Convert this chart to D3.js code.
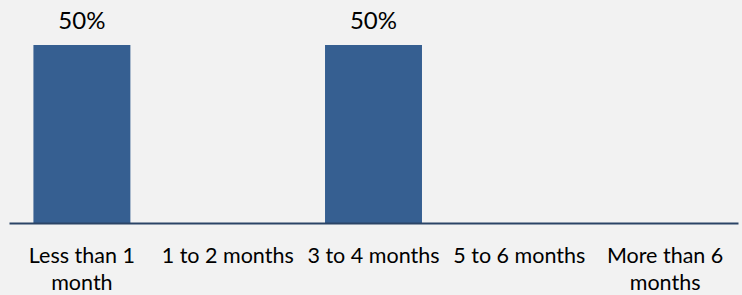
<!DOCTYPE html>
<html>
<head>
<meta charset="utf-8">
<script src="https://cdn.jsdelivr.net/npm/d3@7"></script>
<style>
  body { margin: 0; background: #f2f2f2; }
  svg { display: block; }
  text { font-family: Lato, "Open Sans", sans-serif; fill: #000; }
</style>
</head>
<body>
<div class="chart"></div>
<script>
// Data
const categories = ["Less than 1 month", "1 to 2 months", "3 to 4 months", "5 to 6 months", "More than 6 months"];
const values = [0.5, 0, 0.5, 0, 0];
const tickLines = [["Less than 1", "month"], ["1 to 2 months"], ["3 to 4 months"], ["5 to 6 months"], ["More than 6", "months"]];

const width = 742, height = 295;
const svg = d3.select(".chart").append("svg")
    .attr("width", width)
    .attr("height", height);

const xScale = d3.scaleBand()
    .domain(categories)
    .range([9, 738])
    .paddingInner(0.335)
    .paddingOuter(0.1675);

const yScale = d3.scaleLinear()
    .domain([0, 0.5])
    .range([223, 45]);

const data = categories.map((c, i) => ({ label: c, value: values[i], lines: tickLines[i] }));

// bars (only non-zero ones show)
svg.selectAll(".bar")
    .data(data.filter(d => d.value > 0))
    .enter()
    .append("rect")
    .attr("class", "bar")
    .attr("x", d => xScale(d.label))
    .attr("y", d => yScale(d.value))
    .attr("width", xScale.bandwidth())
    .attr("height", d => yScale(0) - yScale(d.value))
    .attr("fill", "#365f91");

// data labels
svg.selectAll(".val")
    .data(data.filter(d => d.value > 0))
    .enter()
    .append("text")
    .attr("class", "val")
    .attr("x", d => xScale(d.label) + xScale.bandwidth() / 2)
    .attr("y", d => yScale(d.value) - 16.5)
    .attr("text-anchor", "middle")
    .style("font-size", "24px")
    .text(d => d3.format(".0%")(d.value));

// x axis
const xAxis = d3.axisBottom(xScale).tickSize(0).tickFormat("");
const gx = svg.append("g")
    .attr("transform", `translate(0, ${yScale(0)})`)
    .call(xAxis);
gx.select(".domain").attr("stroke", "#2b4466").attr("stroke-width", 2);

// wrapped tick labels
const tl = svg.append("g").selectAll("text")
    .data(data)
    .enter()
    .append("text")
    .attr("text-anchor", "middle")
    .style("font-size", "21.5px")
    .attr("transform", d => `translate(${xScale(d.label) + xScale.bandwidth() / 2}, 263)`);
tl.selectAll("tspan")
    .data(d => d.lines)
    .enter()
    .append("tspan")
    .attr("x", 0)
    .attr("y", (d, i) => i * 26.5)
    .text(d => d);
</script>
</body>
</html>
